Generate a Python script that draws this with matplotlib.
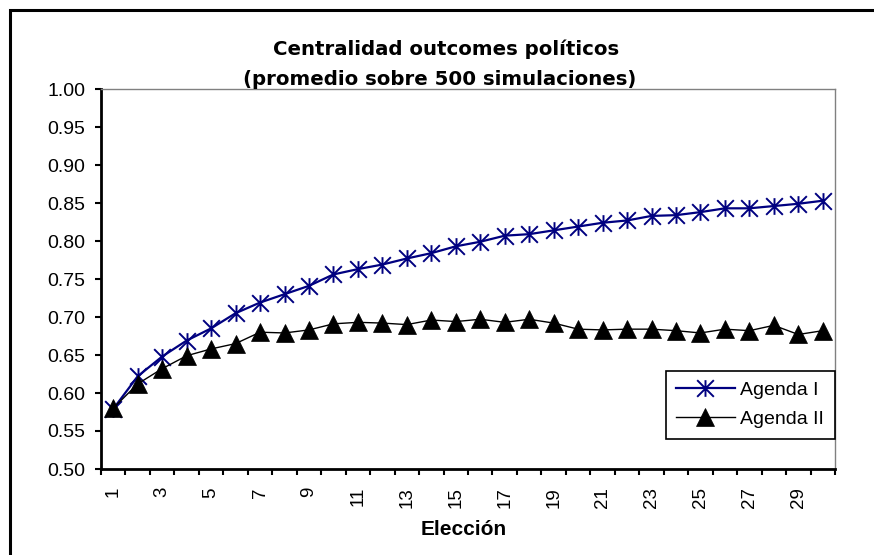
import matplotlib.pyplot as plt
from matplotlib.patches import Rectangle
from matplotlib.path import Path

eleccion = list(range(1, 31))
agenda_1 = [0.579, 0.622, 0.648, 0.669, 0.685, 0.705, 0.719, 0.730, 0.741, 0.756,
            0.763, 0.769, 0.777, 0.784, 0.793, 0.799, 0.807, 0.809, 0.814, 0.819,
            0.824, 0.827, 0.833, 0.834, 0.838, 0.843, 0.843, 0.846, 0.849, 0.853]
agenda_2 = [0.580, 0.612, 0.632, 0.649, 0.658, 0.665, 0.680, 0.679, 0.683, 0.691,
            0.693, 0.692, 0.690, 0.696, 0.694, 0.697, 0.693, 0.697, 0.692, 0.684,
            0.683, 0.684, 0.684, 0.682, 0.679, 0.684, 0.682, 0.689, 0.677, 0.682]
y_ticks = [0.50, 0.55, 0.60, 0.65, 0.70, 0.75, 0.80, 0.85, 0.90, 0.95, 1.00]
x_labels = [1, 3, 5, 7, 9, 11, 13, 15, 17, 19, 21, 23, 25, 27, 29]

# asterisco tipo Excel: X + barra vertical
asterisco = Path([(0, -1), (0, 1), (-1, -1), (1, 1), (-1, 1), (1, -1)],
                 [Path.MOVETO, Path.LINETO, Path.MOVETO, Path.LINETO,
                  Path.MOVETO, Path.LINETO])

fig = plt.figure(figsize=(8.74, 5.55), dpi=100)
ax = fig.add_axes([101 / 874, 1 - 469 / 555, 734 / 874, 380 / 555])

# marco exterior
fig.patches.append(Rectangle((10 / 874, -0.1), 1.2, 1.1 - 10 / 555,
                             transform=fig.transFigure, fill=False,
                             edgecolor='black', linewidth=2.2))

ax.plot(eleccion, agenda_1, color='#000080', linewidth=1.6,
        marker=asterisco, markersize=12, markeredgewidth=1.4,
        label='Agenda I')
ax.plot(eleccion, agenda_2, color='black', linewidth=1.0,
        marker='^', markersize=13.5, markeredgewidth=0.5,
        label='Agenda II')

ax.set_xlim(0.5, 30.5)
ax.set_ylim(0.5, 1.0)
ax.set_yticks(y_ticks)
ax.set_yticklabels(['%.2f' % v for v in y_ticks],
                   fontfamily='Liberation Sans', fontsize=14)

# ticks entre categorias, etiquetas en el centro
ax.set_xticks([i + 0.5 for i in range(0, 31)])
ax.set_xticklabels([])
ax.set_xticks(x_labels, minor=True)
ax.set_xticklabels([str(v) for v in x_labels], minor=True, rotation=90,
                   fontfamily='Liberation Sans', fontsize=13.5)
ax.tick_params(axis='x', which='minor', length=0, pad=13)
ax.tick_params(axis='x', which='major', length=4, width=1.5, direction='out')
ax.tick_params(axis='y', length=4.5, width=1.5, direction='out', pad=7)

for s in ['left', 'bottom']:
    ax.spines[s].set_linewidth(2)
    ax.spines[s].set_color('black')
for s in ['top', 'right']:
    ax.spines[s].set_linewidth(1)
    ax.spines[s].set_color('#808080')

fig.text(464 / 874, 1 - 535 / 555, 'Elección', ha='center', va='baseline',
         fontfamily='Liberation Sans', fontweight='bold', fontsize=15)
fig.text(446 / 874, 1 - 55 / 555, 'Centralidad outcomes políticos',
         ha='center', va='baseline', fontfamily='DejaVu Sans',
         fontweight='bold', fontsize=14.2)
fig.text(440 / 874, 1 - 85 / 555, '(promedio sobre 500 simulaciones)',
         ha='center', va='baseline', fontfamily='DejaVu Sans',
         fontweight='bold', fontsize=14.2)

leg = ax.legend(loc='lower right', bbox_to_anchor=(1.0, 0.079),
                borderaxespad=0, fancybox=False, edgecolor='black',
                framealpha=1, handlelength=3.0, handletextpad=0.3,
                borderpad=0.55, labelspacing=0.6,
                prop={'family': 'Liberation Sans', 'size': 14})
leg.get_frame().set_linewidth(1.2)

fig.savefig('out.png', dpi=100)
